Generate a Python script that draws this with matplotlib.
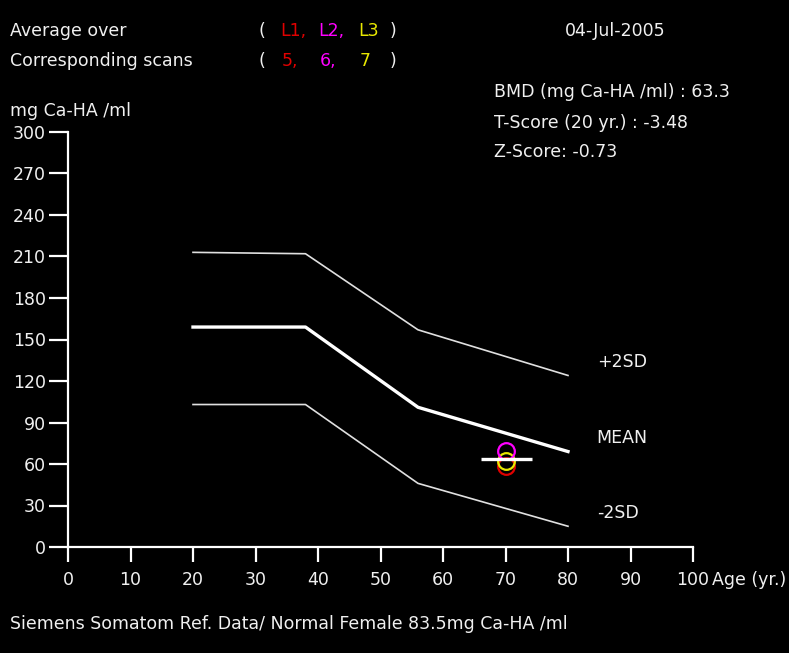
import matplotlib.pyplot as plt

# reference curves (age in years, BMD in mg Ca-HA/ml)
ages_ref = [20, 38, 56, 80]
plus2sd = [213, 212, 157, 124]
mean_ref = [159, 159, 101, 69]
minus2sd = [103, 103, 46, 15]

# patient measurements
patient_age = 70
scan_labels = ['L1', 'L2', 'L3']
scan_numbers = ['5', '6', '7']
scan_values = [58.6, 69.3, 62.0]
scan_colors = ['#e00000', '#ff00ff', '#e8e800']
bmd = 63.3
t_score = -3.48
z_score = -0.73

xticks = list(range(0, 101, 10))
yticks = list(range(0, 301, 30))

W, H = 789, 653
fig = plt.figure(figsize=(W / 100, H / 100), dpi=100, facecolor='black')
ax = fig.add_axes([68 / W, (H - 547) / H, 625 / W, 415 / H], facecolor='black')

fs = 12.5
txt = '#f0f0f0'

def px(x, y, s, color=txt, **kw):
    fig.text(x / W, 1 - y / H, s, color=color, fontsize=fs, va='center', ha='left', **kw)

ax.plot(ages_ref, plus2sd, color='#e0e0e0', lw=1.2, clip_on=False)
ax.plot(ages_ref, mean_ref, color='white', lw=2.4, clip_on=False)
ax.plot(ages_ref, minus2sd, color='#e0e0e0', lw=1.2, clip_on=False)

# circles for each vertebra, then the averaged BMD bar on top
order = [0, 2, 1]
for i in order:
    ax.plot(patient_age, scan_values[i], 'o', ms=12, mfc='none', mec=scan_colors[i], mew=1.6)
ax.hlines(bmd, patient_age - 4, patient_age + 4.2, color='white', lw=2.4, zorder=5)

ax.text(84.6, 133.8, '+2SD', color=txt, fontsize=fs, va='center')
ax.text(84.6, 78.8, 'MEAN', color=txt, fontsize=fs, va='center')
ax.text(84.6, 24.6, '-2SD', color=txt, fontsize=fs, va='center')

ax.set_xlim(0, 100)
ax.set_ylim(0, 300)
ax.set_xticks(xticks)
ax.set_yticks(yticks)
for s in ['top', 'right']:
    ax.spines[s].set_visible(False)
for s in ['left', 'bottom']:
    ax.spines[s].set_color('white')
    ax.spines[s].set_linewidth(1.6)
ax.tick_params(axis='x', colors='white', labelcolor=txt, labelsize=fs, length=11, width=1.6, pad=6)
ax.tick_params(axis='y', colors='white', labelcolor=txt, labelsize=fs, length=14, width=1.6, pad=2)
ax.text(103, -0.08, 'Age (yr.)', transform=ax.get_xaxis_transform(), color=txt,
        fontsize=fs, va='center', ha='left', clip_on=False)

# header texts
px(10, 31, 'Average over')
px(10, 61, 'Corresponding scans')
px(258, 31, '(')
px(258, 61, '(')
xs = [280, 318, 358]
for x, lab, num, c in zip(xs, scan_labels, scan_numbers, scan_colors):
    px(x, 31, lab + (',' if lab != 'L3' else ''), color=c)
    px(x + 2, 61, num + (',' if num != '7' else ''), color=c)
px(390, 31, ')')
px(390, 61, ')')
px(565, 31, '04-Jul-2005')
px(494, 92, f'BMD (mg Ca-HA /ml) : {bmd}')
px(494, 123, f'T-Score (20 yr.) : {t_score}')
px(494, 152, f'Z-Score: {z_score}')
px(10, 111, 'mg Ca-HA /ml')
px(10, 624, 'Siemens Somatom Ref. Data/ Normal Female 83.5mg Ca-HA /ml')

fig.savefig('out.png', dpi=100, facecolor='black')
